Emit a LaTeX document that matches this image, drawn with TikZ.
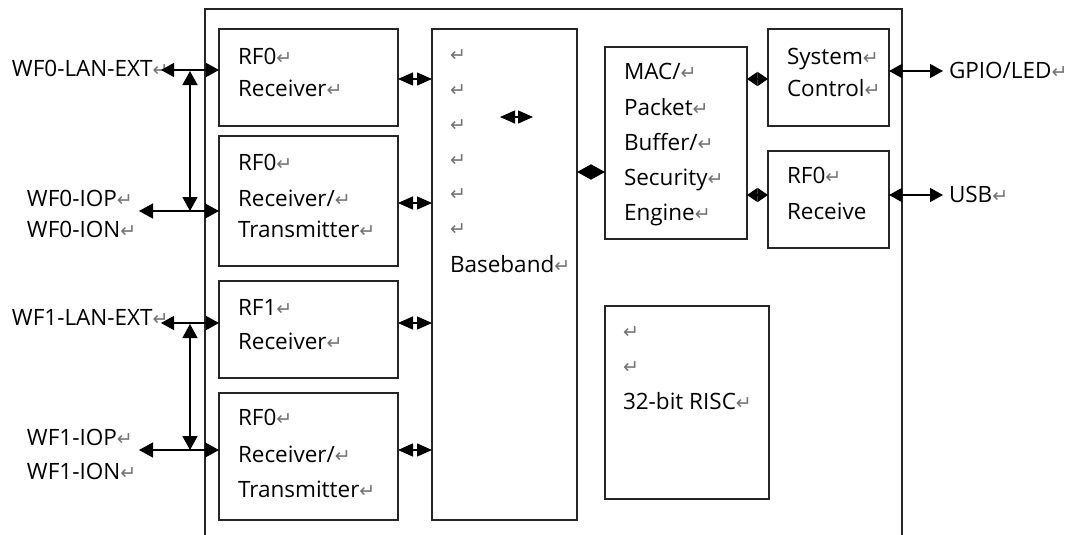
\documentclass[tikz,border=0pt]{standalone}
\usepackage{fontspec}
\setmainfont{Open Sans}
\newfontfamily\dejavu{DejaVu Sans}
\usetikzlibrary{arrows.meta}
\newcommand\retmark{{\color{black!55}\dejavu\fontsize{19}{19}\selectfont ↵}}
\begin{document}
\begin{tikzpicture}[x=1pt,y=-1pt,
  box/.style={draw=black!85, line width=1.4pt, rectangle, inner sep=0pt, outer sep=0pt, anchor=north west},
  lbl/.style={font=\fontsize{22.5}{26}\selectfont, anchor=base west, inner sep=0pt, outer sep=0pt, text=black},
  conn/.style={line width=1.4pt, draw=black},
  big/.style={conn, {Triangle[length=14pt,width=15pt]}-{Triangle[length=14pt,width=15pt]}},
  mid/.style={conn, {Triangle[length=13pt,width=14pt]}-{Triangle[length=13pt,width=14pt]}},
  rfb/.style={conn, {Triangle[length=15pt,width=13pt]}-{Triangle[length=15pt,width=13pt]}},
  dia/.style={conn, {Triangle[length=14pt,width=15pt]}-{Triangle[length=14pt,width=15pt]}},
  small/.style={conn, {Triangle[length=10.5pt,width=14pt]}-{Triangle[length=10.5pt,width=14pt]}}
]
\useasboundingbox (0,0) rectangle (1068,535);
\fill[white] (0,0) rectangle (1068,535);

% outer frame (open at bottom)
\draw[draw=black!85, line width=1.4pt] (205,537) -- (205,9) -- (902,9) -- (902,537);

% boxes
\node[box, minimum width=179pt, minimum height=97pt]  (rf0a) at (219,29)  {};
\node[box, minimum width=179pt, minimum height=130pt] (rf0b) at (219,136) {};
\node[box, minimum width=179pt, minimum height=97pt]  (rf1)  at (219,281) {};
\node[box, minimum width=179pt, minimum height=127pt] (rf0c) at (219,393) {};
\node[box, minimum width=145pt, minimum height=491pt] (bb)   at (432,29)  {};
\node[box, minimum width=142pt, minimum height=192pt] (mac)  at (605,47)  {};
\node[box, minimum width=121pt, minimum height=97pt]  (sys)  at (768,29)  {};
\node[box, minimum width=121pt, minimum height=97pt]  (rf0r) at (768,151) {};
\node[box, minimum width=164pt, minimum height=193pt] (risc) at (605,306) {};

% outside labels
\node[lbl] (l1) at (12,77)  {WF0-LAN-EXT\retmark};
\node[lbl] (l2) at (27,206) {WF0-IOP\retmark};
\node[lbl] (l3) at (27,237) {WF0-ION\retmark};
\node[lbl] (l4) at (12,325) {WF1-LAN-EXT\retmark};
\node[lbl] (l5) at (27,445) {WF1-IOP\retmark};
\node[lbl] (l6) at (27,479) {WF1-ION\retmark};
\node[lbl] (l7) at (949,78) {GPIO/LED\retmark};
\node[lbl] (l8) at (949,202) {USB\retmark};

% box texts
\node[lbl] (ta1) at (238,64)  {RF0\retmark};
\node[lbl] (ta2) at (238,96)  {Receiver\retmark};
\node[lbl] (tb1) at (238,170) {RF0\retmark};
\node[lbl] (tb2) at (238,206) {Receiver/\retmark};
\node[lbl] (tb3) at (238,237) {Transmitter\retmark};
\node[lbl] (tc1) at (238,315) {RF1\retmark};
\node[lbl] (tc2) at (238,349) {Receiver\retmark};
\node[lbl] (td1) at (238,425) {RF0\retmark};
\node[lbl] (td2) at (238,462) {Receiver/\retmark};
\node[lbl] (td3) at (238,497) {Transmitter\retmark};

\node[lbl] (be1) at (450,62)  {\retmark};
\node[lbl] (be2) at (450,96)  {\retmark};
\node[lbl] (be3) at (450,131) {\retmark};
\node[lbl] (be4) at (450,166) {\retmark};
\node[lbl] (be5) at (450,200) {\retmark};
\node[lbl] (be6) at (450,235) {\retmark};
\node[lbl] (be7) at (450,272) {Baseband\retmark};

\node[lbl] (tm1) at (624,80)  {MAC/\retmark};
\node[lbl] (tm2) at (624,115) {Packet\retmark};
\node[lbl] (tm3) at (624,150) {Buffer/\retmark};
\node[lbl] (tm4) at (624,185) {Security\retmark};
\node[lbl] (tm5) at (624,220) {Engine\retmark};

\node[lbl] (ts1) at (787,64)  {System\retmark};
\node[lbl] (ts2) at (787,96)  {Control\retmark};
\node[lbl] (tr1) at (787,183) {RF0\retmark};
\node[lbl] (tr2) at (787,219) {Receive};

\node[lbl] (tx1) at (623,338) {\retmark};
\node[lbl] (tx2) at (623,373) {\retmark};
\node[lbl] (tx3) at (623,409) {32-bit RISC\retmark};

% connector coordinates
\coordinate (p1) at (161,70);
\coordinate (p2) at (139,211);
\coordinate (p3) at (161,323);
\coordinate (p4) at (139,450);
\coordinate (v1t) at (190,71);
\coordinate (v1b) at (190,211);
\coordinate (v2t) at (190,324);
\coordinate (v2b) at (190,450);
\coordinate (ya) at (0,79);
\coordinate (yb) at (0,203);
\coordinate (yc) at (0,323);
\coordinate (yd) at (0,450);
\coordinate (ym) at (0,172);
\coordinate (ys) at (0,79);
\coordinate (yr) at (0,195);
\coordinate (yg) at (0,71);
\coordinate (yu) at (0,195);
\coordinate (ia) at (500,117);
\coordinate (ib) at (533,117);
\coordinate (g1) at (943,71);
\coordinate (u1) at (943,195);

% left side connectors
\draw[mid] (p1) -- (rf0a.west |- p1);
\draw[big] (v1t) -- (v1b);
\draw[big] (p2) -- (rf0b.west |- p2);
\draw[mid] (p3) -- (rf1.west |- p3);
\draw[big] (v2t) -- (v2b);
\draw[big] (p4) -- (rf0c.west |- p4);

% RF to baseband
\draw[rfb] (rf0a.east |- ya) -- (bb.west |- ya);
\draw[rfb] (rf0b.east |- yb) -- (bb.west |- yb);
\draw[rfb] (rf1.east |- yc) -- (bb.west |- yc);
\draw[rfb] (rf0c.east |- yd) -- (bb.west |- yd);

% inside baseband
\draw[rfb] (ia) -- (ib);

% baseband to MAC
\draw[dia] (bb.east |- ym) -- (mac.west |- ym);
% MAC to right boxes
\draw[small] (mac.east |- ys) -- (sys.west |- ys);
\draw[small] (mac.east |- yr) -- (rf0r.west |- yr);
% right outputs
\draw[mid] (sys.east |- yg) -- (g1);
\draw[mid] (rf0r.east |- yu) -- (u1);
\end{tikzpicture}
\end{document}
